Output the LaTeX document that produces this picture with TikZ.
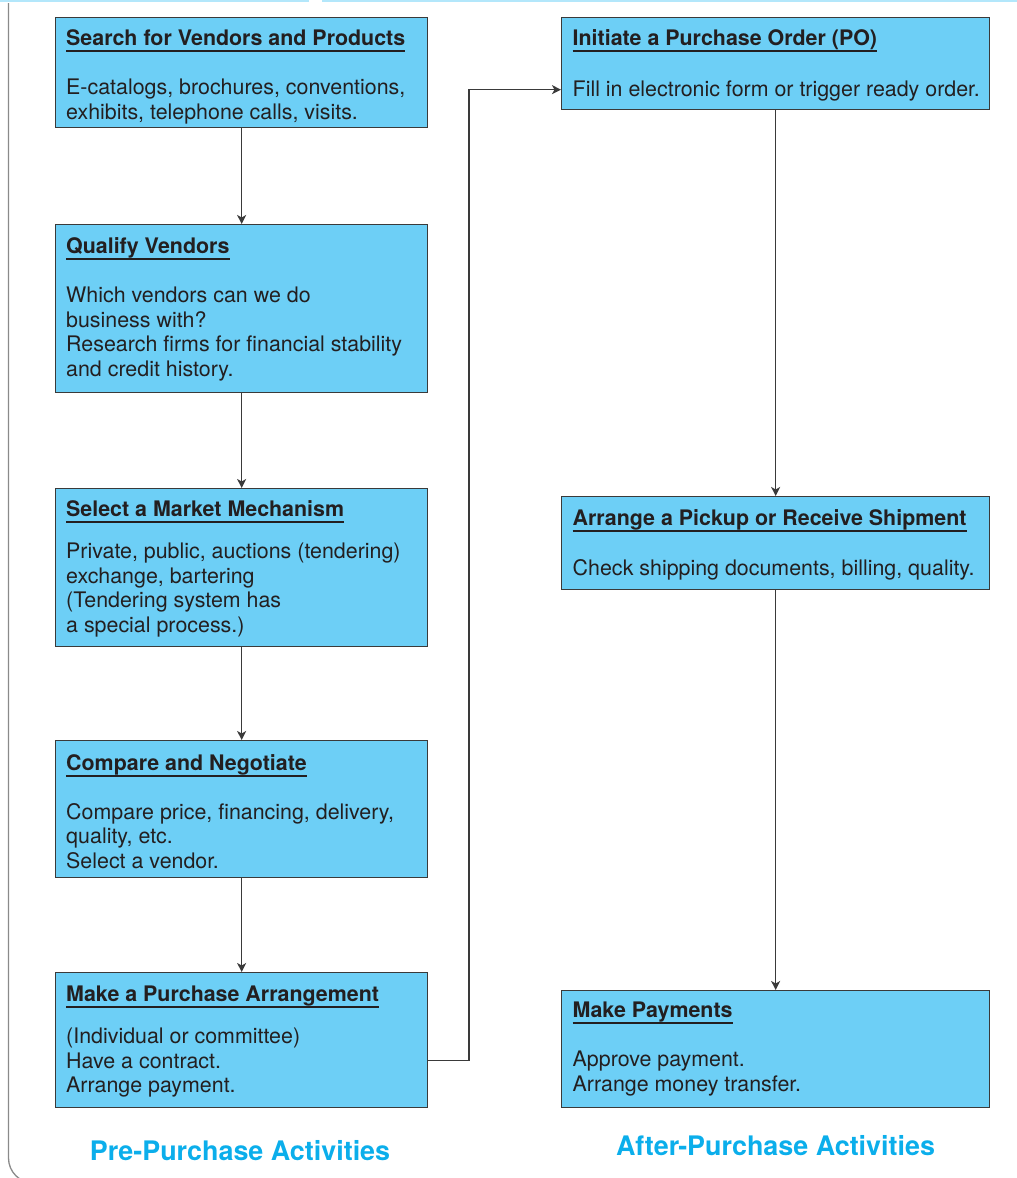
\documentclass[tikz,border=0pt]{standalone}
\usepackage{fontspec}
\setmainfont{TeX Gyre Heros}
\usetikzlibrary{arrows.meta,calc}
\definecolor{boxfill}{HTML}{6DCFF6}
\definecolor{boxline}{HTML}{3A3A3A}
\definecolor{headblue}{HTML}{0BAEEB}
\definecolor{barblue}{HTML}{B3E7FB}
\definecolor{framegray}{HTML}{8A8A8A}
\definecolor{txt}{HTML}{231F20}

\begin{document}
\begin{tikzpicture}[x=1pt,y=-1pt,
  stepbox/.style={draw=boxline, line width=1.3pt, fill=boxfill, inner sep=0, anchor=north west},
  ttl/.style={anchor=base west, inner sep=0, text=txt,
    font=\fontsize{21.4}{24.5}\selectfont\bfseries,
    append after command={($(\tikzlastnode.base west)+(0,6)$)
      edge[draw=txt, line width=1.3pt] ($(\tikzlastnode.base east)+(0,6)$)}},
  body/.style={anchor=north west, yshift=15.15pt, inner sep=0, align=left, text=txt,
    font=\fontsize{21.4}{24.5}\selectfont, execute at begin node=\strut},
  link/.style={draw=boxline, line width=1.4pt, -{Stealth[length=9pt,width=9pt,inset=2.5pt]}},
  group/.style={text=headblue, font=\fontsize{26.9}{30}\selectfont\bfseries, inner sep=0, anchor=base}
]
\useasboundingbox (0,0) rectangle (1017,1178);
\clip (0,0) rectangle (1017,1178);

% frame: light top rule and rounded grey side
\draw[barblue, line width=2.5pt] (0,1) -- (309,1) (322,1) -- (1017,1);
\draw[framegray, line width=1.3pt, rounded corners=25pt] (8.5,3) -- (8.5,1183) -- (1100,1183);

% pre-purchase column
\node[stepbox, minimum width=372pt, minimum height=110pt] (b1) at (55,17) {};
\node[stepbox, minimum width=372pt, minimum height=168pt] (b2) at (55,224) {};
\node[stepbox, minimum width=372pt, minimum height=158pt] (b3) at (55,488) {};
\node[stepbox, minimum width=372pt, minimum height=137pt] (b4) at (55,740) {};
\node[stepbox, minimum width=372pt, minimum height=135pt] (b5) at (55,972) {};

% after-purchase column
\node[stepbox, minimum width=428pt, minimum height=92pt] (r1) at (561,17) {};
\node[stepbox, minimum width=428pt, minimum height=93pt] (r2) at (561,496) {};
\node[stepbox, minimum width=428pt, minimum height=117pt] (r3) at (561,990) {};

% box texts
\node[ttl] (t1) at (66,45) {Search for Vendors and Products};
\node[body] (d1) at (66,94) {E-catalogs, brochures, conventions,\\exhibits, telephone calls, visits.};
\node[ttl] (t2) at (66,253) {Qualify Vendors};
\node[body] (d2) at (66,302) {Which vendors can we do\\business with?\\Research firms for financial stability\\and credit history.};
\node[ttl] (t3) at (66,516) {Select a Market Mechanism};
\node[body] (d3) at (66,558) {Private, public, auctions (tendering)\\exchange, bartering\\(Tendering system has\\a special process.)};
\node[ttl] (t4) at (66,770) {Compare and Negotiate};
\node[body] (d4) at (66,818) {Compare price, financing, delivery,\\quality, etc.\\Select a vendor.};
\node[ttl] (t5) at (66,1001) {Make a Purchase Arrangement};
\node[body] (d5) at (66,1043) {(Individual or committee)\\Have a contract.\\Arrange payment.};

\node[ttl] (u1) at (572.5,45) {Initiate a Purchase Order (PO)};
\node[body] (e1) at (572.5,94) {Fill in electronic form or trigger ready order.};
\node[ttl] (u2) at (572.5,525) {Arrange a Pickup or Receive Shipment};
\node[body] (e2) at (572.5,573) {Check shipping documents, billing, quality.};
\node[ttl] (u3) at (572.5,1017) {Make Payments};
\node[body] (e3) at (572.5,1066) {Approve payment.\\Arrange money transfer.};

% connectors
\draw[link] (b1) -- (b2);
\draw[link] (b2) -- (b3);
\draw[link] (b3) -- (b4);
\draw[link] (b4) -- (b5);
\draw[link] ([yshift=-20.5pt]b5.east) -- ++(40.5,0) |- ([yshift=-26pt]r1.west);
\draw[link] (r1) -- (r2);
\draw[link] (r2) -- (r3);

% column captions
\node[group] (g1) at (240,1160) {Pre-Purchase Activities};
\node[group] (g2) at (775.5,1155) {After-Purchase Activities};
\end{tikzpicture}
\end{document}
